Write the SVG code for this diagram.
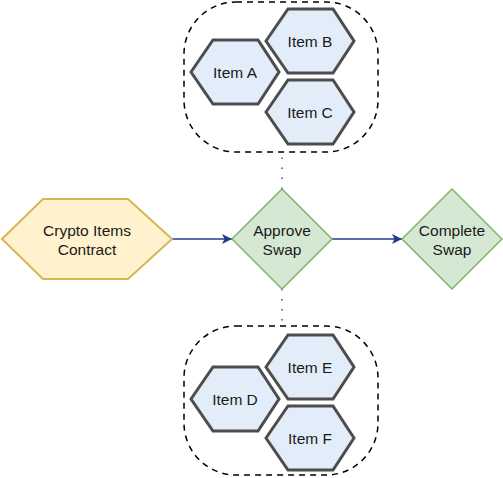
<svg xmlns="http://www.w3.org/2000/svg" width="503" height="478" viewBox="0 0 503 478">
<style>
text{font-family:"Liberation Sans",Arial,sans-serif;font-size:15.5px;fill:#1a1a1a;text-anchor:middle}
.item{fill:#e3edf9;stroke:#4d4d4d;stroke-width:3}
.grp{fill:none;stroke:#000;stroke-width:1.5;stroke-dasharray:6 5}
.dia{fill:#d5e8d4;stroke:#82b366;stroke-width:1.5}
.conn{stroke:#1f3a93;stroke-width:1.5;fill:none}
.dot{stroke:#3a4fa0;stroke-width:1.5;stroke-dasharray:1.5 8.5;fill:none}
</style>
<defs>
<marker id="arr" viewBox="0 0 10 10" refX="10" refY="5" markerWidth="10" markerHeight="10" markerUnits="userSpaceOnUse" orient="auto">
<path d="M0,0 L10,5 L0,10 L2.5,5 Z" fill="#1f3a93"/>
</marker>
</defs>
<g id="connectors">
<line class="conn" x1="172" y1="239" x2="232" y2="239" marker-end="url(#arr)"/>
<line class="conn" x1="332" y1="239" x2="402" y2="239" marker-end="url(#arr)"/>
<line class="dot" x1="282" y1="189" x2="282" y2="153"/>
<line class="dot" x1="282" y1="289" x2="282" y2="326"/>
</g>
<g id="group-top"><rect class="grp" x="184" y="2" width="194" height="150" rx="52"/></g>
<g id="group-bottom"><rect class="grp" x="184" y="326" width="194" height="149" rx="52"/></g>
<g id="item-a"><polygon class="item" points="191,72 213,40 258,40 279,72 258,104 213,104"/><text x="235" y="78">Item A</text></g>
<g id="item-b"><polygon class="item" points="266,41 288,9 333,9 354,41 333,73 288,73"/><text x="310" y="47">Item B</text></g>
<g id="item-c"><polygon class="item" points="266,112 288,80 333,80 354,112 333,144 288,144"/><text x="310" y="118">Item C</text></g>
<g id="item-d"><polygon class="item" points="191,399 213,367 258,367 279,399 258,431 213,431"/><text x="235" y="405">Item D</text></g>
<g id="item-e"><polygon class="item" points="266,367 288,335 333,335 354,367 333,399 288,399"/><text x="310" y="373">Item E</text></g>
<g id="item-f"><polygon class="item" points="266,438 288,406 333,406 354,438 333,470 288,470"/><text x="310" y="444">Item F</text></g>
<g id="crypto"><polygon points="2,239 43,199 128,199 172,239 128,279 43,279" fill="#fff2cc" stroke="#d6b656" stroke-width="2"/><text x="87" y="236">Crypto Items</text><text x="87" y="255">Contract</text></g>
<g id="approve"><polygon class="dia" points="282,189 332,239 282,289 232,239"/><text x="282" y="236">Approve</text><text x="282" y="255">Swap</text></g>
<g id="complete"><polygon class="dia" points="452,189 502,239 452,289 402,239"/><text x="452" y="236">Complete</text><text x="452" y="255">Swap</text></g>
</svg>
